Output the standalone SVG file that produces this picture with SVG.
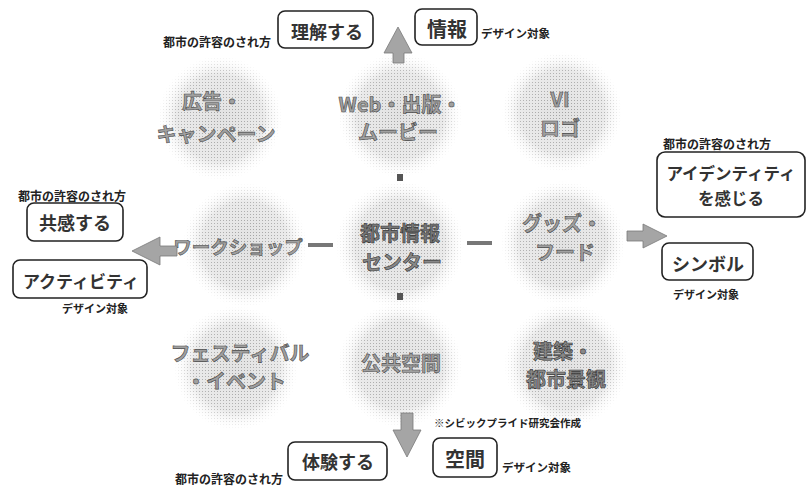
<svg xmlns="http://www.w3.org/2000/svg" width="811" height="495" viewBox="0 0 811 495">
<style>
.disk{fill:url(#g)}
.dots{fill:url(#dots);mask:url(#m)}
.nt{font-family:"Noto Sans CJK JP","Noto Sans",sans-serif;font-weight:bold;font-size:20px;fill:#a0a0a0;stroke:#4a4a4a;stroke-width:0.6;text-anchor:middle;dominant-baseline:central}
.bx{fill:#fff;stroke:#222;stroke-width:1.6}
.bt{font-family:"Noto Sans CJK JP","Noto Sans",sans-serif;font-weight:bold;font-size:18px;fill:#333;text-anchor:middle;dominant-baseline:central}
.lb{font-family:"Noto Sans CJK JP","Noto Sans",sans-serif;font-weight:bold;font-size:12px;fill:#222;dominant-baseline:central}
.ar{fill:#a5a5a5;stroke:#7a7a7a;stroke-width:0.8}
.ln{fill:#555}
.dash{fill:#777}
</style>
<defs>
<radialGradient id="g"><stop offset="0" stop-color="#e2e2e2"/><stop offset="0.7" stop-color="#eaeaea"/><stop offset="1" stop-color="#ffffff" stop-opacity="0"/></radialGradient>
<radialGradient id="mg"><stop offset="0" stop-color="#fff"/><stop offset="0.7" stop-color="#fff" stop-opacity="0.75"/><stop offset="1" stop-color="#fff" stop-opacity="0"/></radialGradient>
<pattern id="dots" width="3" height="3" patternUnits="userSpaceOnUse"><circle cx="1.5" cy="1.5" r="0.5" fill="#8a8a8a"/></pattern>
<mask id="m" maskContentUnits="objectBoundingBox"><rect width="1" height="1" fill="url(#mg)"/></mask>
</defs>
<rect width="811" height="495" fill="#fff"/>

<g id="n-koukoku"><circle class="disk" cx="220" cy="118" r="62"/><circle class="dots" cx="220" cy="118" r="62"/><text class="nt" x="212" y="100">広告・</text><text class="nt" x="216" y="133">キャンペーン</text></g>
<g id="n-web"><circle class="disk" cx="400" cy="115" r="62"/><circle class="dots" cx="400" cy="115" r="62"/><text class="nt" x="400" y="103">Web・出版・</text><text class="nt" x="398" y="131">ムービー</text></g>
<g id="n-vi"><circle class="disk" cx="562" cy="112" r="60"/><circle class="dots" cx="562" cy="112" r="60"/><text class="nt" x="560" y="98">VI</text><text class="nt" x="560" y="127">ロゴ</text></g>
<g id="n-workshop"><circle class="disk" cx="245" cy="245" r="62"/><circle class="dots" cx="245" cy="245" r="62"/><text class="nt" x="238" y="246" style="font-size:18.5px">ワークショップ</text></g>
<g id="n-center"><circle class="disk" cx="400" cy="245" r="64"/><circle class="dots" cx="400" cy="245" r="64"/><text class="nt" x="400" y="232" style="fill:#777;stroke:#333">都市情報</text><text class="nt" x="402" y="261" style="fill:#888;stroke:#333">センター</text></g>
<g id="n-goods"><circle class="disk" cx="563" cy="243" r="62"/><circle class="dots" cx="563" cy="243" r="62"/><text class="nt" x="562" y="222">グッズ・</text><text class="nt" x="565" y="251">フード</text></g>
<g id="n-festival"><circle class="disk" cx="236" cy="368" r="62"/><circle class="dots" cx="236" cy="368" r="62"/><text class="nt" x="240" y="352">フェスティバル</text><text class="nt" x="236" y="380">・イベント</text></g>
<g id="n-public"><circle class="disk" cx="400" cy="365" r="62"/><circle class="dots" cx="400" cy="365" r="62"/><text class="nt" x="401" y="362">公共空間</text></g>
<g id="n-arch"><circle class="disk" cx="566" cy="365" r="62"/><circle class="dots" cx="566" cy="365" r="62"/><text class="nt" x="563" y="350" style="fill:#888;stroke:#333">建築・</text><text class="nt" x="566" y="378" style="fill:#888;stroke:#333">都市景観</text></g>

<g id="connectors">
<rect class="ln" x="397" y="174" width="6" height="7"/>
<rect class="ln" x="397" y="293" width="6" height="7"/>
<rect class="dash" x="308" y="243" width="25" height="4"/>
<rect class="dash" x="467" y="241" width="25" height="4"/>
<polygon class="ar" points="398,27 412,53 404,53 404,63 393,63 393,53 384,53"/>
<polygon class="ar" points="132,251 160,237 160,246 177,246 177,256 160,256 160,265"/>
<polygon class="ar" points="667,236 643,224 643,231 627,231 627,241 643,241 643,248"/>
<polygon class="ar" points="407,457 421,430 413,430 413,413 401,413 401,430 393,430"/>
</g>

<g id="b-rikai"><rect class="bx" x="278" y="11" width="95" height="37" rx="7"/><text class="bt" x="327" y="31">理解する</text><text class="lb" x="163" y="41">都市の許容のされ方</text></g>
<g id="b-jouhou"><rect class="bx" x="415" y="9" width="62" height="36" rx="7"/><text class="bt" x="447" y="28" style="font-size:20px">情報</text><text class="lb" x="481" y="33" style="font-size:11.5px">デザイン対象</text></g>
<g id="b-kyoukan"><rect class="bx" x="27" y="203" width="96" height="38" rx="7"/><text class="bt" x="75" y="222">共感する</text><text class="lb" x="18" y="195">都市の許容のされ方</text></g>
<g id="b-activity"><rect class="bx" x="13" y="260" width="134" height="38" rx="7"/><text class="bt" x="81" y="280" style="font-size:17px">アクティビティ</text><text class="lb" x="62" y="308" style="font-size:11px">デザイン対象</text></g>
<g id="b-identity"><rect class="bx" x="657" y="152" width="148" height="65" rx="8"/><text class="bt" x="731" y="173" style="font-size:16.5px">アイデンティティ</text><text class="bt" x="731" y="198" style="font-size:16.5px">を感じる</text><text class="lb" x="663" y="143">都市の許容のされ方</text></g>
<g id="b-symbol"><rect class="bx" x="662" y="243" width="91" height="37" rx="7"/><text class="bt" x="708" y="263">シンボル</text><text class="lb" x="673" y="294" style="font-size:11px">デザイン対象</text></g>
<g id="b-taiken"><rect class="bx" x="288" y="442" width="99" height="38" rx="7"/><text class="bt" x="338" y="461">体験する</text><text class="lb" x="175" y="478">都市の許容のされ方</text></g>
<g id="b-kuukan"><rect class="bx" x="433" y="438" width="64" height="39" rx="7"/><text class="bt" x="465" y="458" style="font-size:20px">空間</text><text class="lb" x="502" y="467" style="font-size:11.5px">デザイン対象</text></g>
<text class="lb" x="434" y="422" style="font-size:10.5px">※シビックプライド研究会作成</text>
</svg>
